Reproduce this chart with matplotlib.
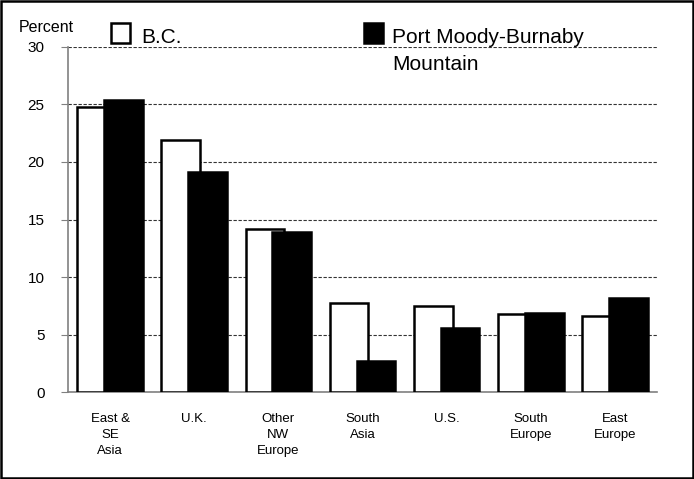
import matplotlib
matplotlib.use("Agg")
import matplotlib.pyplot as plt
from matplotlib.patches import Rectangle
import numpy as np

plt.rcParams['font.family'] = ['Liberation Sans', 'DejaVu Sans']

categories = ["East &\nSE\nAsia", "U.K.", "Other\nNW\nEurope", "South\nAsia", "U.S.", "South\nEurope", "East\nEurope"]
bc = [24.8, 21.9, 14.2, 7.7, 7.5, 6.8, 6.65]
pmbm = [25.4, 19.1, 13.9, 2.7, 5.6, 6.9, 8.2]
yticks = [0, 5, 10, 15, 20, 25, 30]

fig = plt.figure(figsize=(6.94, 4.79), dpi=100)
ax = fig.add_axes([0.098, 0.1816, 0.8487, 0.7203])

x = np.arange(len(categories))
w = 0.46
ax.bar(x - 0.16, bc, width=w, color='white', edgecolor='black', linewidth=1.8, zorder=3)
ax.bar(x + 0.16, pmbm, width=w, color='black', edgecolor='black', linewidth=1.8, zorder=4)

ax.set_xlim(-0.5, len(categories) - 0.5)
ax.set_ylim(0, 30)
ax.set_yticks(yticks)
ax.set_yticklabels([str(v) for v in yticks], fontsize=11)
ax.set_xticks(x)
ax.set_xticklabels(categories, fontsize=9.5, linespacing=1.45)
ax.tick_params(axis='x', length=0, pad=15)
ax.tick_params(axis='y', length=5, color='#808080', pad=12)
ax.yaxis.grid(True, linestyle=(0, (3, 1.5)), color='#333333', linewidth=0.8, zorder=0)
for s in ['top', 'right']:
    ax.spines[s].set_visible(False)
for s in ['left', 'bottom']:
    ax.spines[s].set_color('#808080')
    ax.spines[s].set_linewidth(1.2)

# Percent label
fig.text(46 / 694, 1 - 32 / 479, "Percent", fontsize=11.5, ha='center', va='baseline')

# Legend (manual)
fig.patches.append(Rectangle((111 / 694, 1 - 43 / 479), 19 / 694, 20 / 479, transform=fig.transFigure,
                             facecolor='white', edgecolor='black', linewidth=1.8))
fig.text(141 / 694, 1 - 43 / 479, "B.C.", fontsize=15, ha='left', va='baseline')
fig.patches.append(Rectangle((364 / 694, 1 - 43 / 479), 19 / 694, 20 / 479, transform=fig.transFigure,
                             facecolor='black', edgecolor='black', linewidth=1.8))
fig.text(392 / 694, 1 - 43 / 479, "Port Moody-Burnaby", fontsize=15, ha='left', va='baseline')
fig.text(392 / 694, 1 - 70 / 479, "Mountain", fontsize=15, ha='left', va='baseline')

# Figure frame
fig.patches.append(Rectangle((0.002, 0.002), 0.996, 0.996, transform=fig.transFigure,
                             facecolor='none', edgecolor='black', linewidth=1.8))

fig.savefig("out.png", dpi=100)
